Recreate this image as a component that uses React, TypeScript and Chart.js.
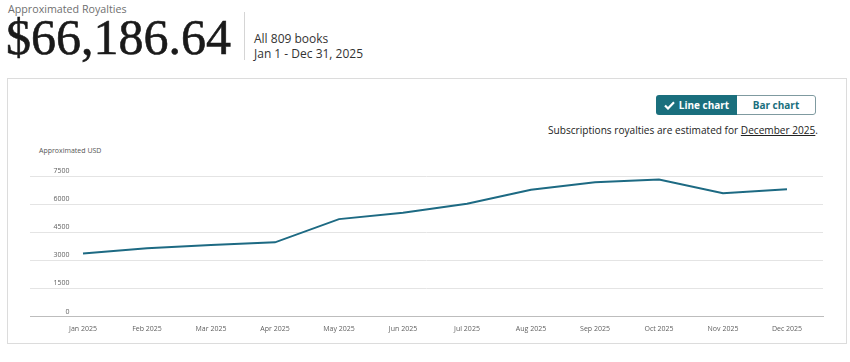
import React, { useEffect, useRef } from "react";
import { Chart, registerables } from "chart.js";

Chart.register(...registerables);

const months = [
  "Jan 2025", "Feb 2025", "Mar 2025", "Apr 2025", "May 2025", "Jun 2025",
  "Jul 2025", "Aug 2025", "Sep 2025", "Oct 2025", "Nov 2025", "Dec 2025",
];
const royalties = [3370, 3650, 3820, 3960, 5200, 5540, 6020, 6770, 7170, 7310, 6580, 6796.64];
const yTickValues = [0, 1500, 3000, 4500, 6000, 7500];

const TEAL = "#1a6f7d";
const LINE = "#1d6a83";
const FONT = "'Open Sans', 'Noto Sans', sans-serif";

function LineChart() {
  const ref = useRef<HTMLCanvasElement | null>(null);
  useEffect(() => {
    if (!ref.current) return;
    const chart = new Chart(ref.current, {
      type: "line",
      data: {
        datasets: [
          {
            data: royalties.map((v, i) => ({ x: i, y: v })),
            borderColor: LINE,
            borderWidth: 2,
            pointRadius: 0,
            tension: 0,
            fill: false,
          },
        ],
      },
      options: {
        animation: false,
        responsive: false,
        layout: { padding: { left: 30, right: 27, top: 36, bottom: 0 } },
        plugins: { legend: { display: false }, tooltip: { enabled: false } },
        scales: {
          x: {
            type: "linear",
            min: -0.828,
            max: 11.5625,
            grid: { display: false, drawTicks: false },
            border: { display: true, color: "#bdbdbd", width: 1 },
            afterBuildTicks: (s: any) => {
              s.ticks = months.map((_, i) => ({ value: i }));
            },
            ticks: {
              autoSkip: false,
              maxRotation: 0,
              padding: 8,
              color: "#5f5f5f",
              font: { family: FONT, size: 7 },
              callback: (v: any) => months[v as number] ?? "",
            },
          },
          y: {
            min: 0,
            max: 7500,
            afterBuildTicks: (s: any) => {
              s.ticks = yTickValues.map((v) => ({ value: v }));
            },
            afterFit: (s: any) => {
              s.width = 0;
              s.paddingTop = 0;
              s.paddingBottom = 0;
            },
            grid: { color: "#e4e4e4", drawTicks: false, lineWidth: 1 },
            border: { display: false },
            ticks: {
              mirror: true,
              crossAlign: "far",
              padding: 23.5,
              labelOffset: -5,
              color: "#5f5f5f",
              font: { family: FONT, size: 7 },
              callback: (v: any) => String(v),
            },
          },
        },
      },
    });
    return () => chart.destroy();
  }, []);
  return (
    <canvas
      ref={ref}
      width={850}
      height={201}
      style={{ position: "absolute", left: 0, top: 140, width: 850, height: 201 }}
    />
  );
}

export default function App() {
  return (
    <div
      style={{
        position: "fixed",
        left: 0,
        top: 0,
        width: 850,
        height: 362,
        background: "#fff",
        fontFamily: FONT,
        overflow: "hidden",
      }}
    >
      <div style={{ position: "absolute", left: 8, top: 2, fontSize: 10.7, color: "#6f6f6f", lineHeight: "14px", whiteSpace: "nowrap" }}>
        Approximated Royalties
      </div>
      <div
        style={{
          position: "absolute",
          left: 6,
          top: 12,
          fontFamily: "'Liberation Serif', 'DejaVu Serif', serif",
          fontSize: 50,
          lineHeight: "50px",
          color: "#1a1a1a",
          whiteSpace: "nowrap",
          WebkitTextStroke: "0.6px #1a1a1a",
        }}
      >
        $66,186.64
      </div>
      <div style={{ position: "absolute", left: 244, top: 12, width: 1, height: 48, background: "#d5d5d5" }} />
      <div style={{ position: "absolute", left: 254, top: 31, fontSize: 12, color: "#333", lineHeight: "16px", whiteSpace: "nowrap" }}>
        All 809 books
      </div>
      <div style={{ position: "absolute", left: 254, top: 46, fontSize: 12, color: "#333", lineHeight: "16px", whiteSpace: "nowrap" }}>
        Jan 1 - Dec 31, 2025
      </div>

      <div
        style={{
          position: "absolute",
          left: 7,
          top: 78,
          width: 838,
          height: 264,
          border: "1px solid #dcdcdc",
          boxSizing: "content-box",
        }}
      />

      <div
        style={{
          position: "absolute",
          left: 656,
          top: 95,
          width: 160,
          height: 20,
          display: "flex",
          borderRadius: 3,
          overflow: "hidden",
          boxSizing: "border-box",
        }}
      >
        <div
          style={{
            width: 81,
            height: 20,
            background: TEAL,
            color: "#fff",
            fontSize: 10,
            fontWeight: 700,
            display: "flex",
            alignItems: "center",
            justifyContent: "center",
            gap: 4,
          }}
        >
          <svg width="11" height="9" viewBox="0 0 11 9">
            <path d="M1 4.5 L4 7.5 L10 1.2" stroke="#fff" strokeWidth="2.2" fill="none" />
          </svg>
          <span>Line chart</span>
        </div>
        <div
          style={{
            width: 79,
            height: 20,
            background: "#fff",
            color: TEAL,
            fontSize: 10,
            fontWeight: 700,
            display: "flex",
            alignItems: "center",
            justifyContent: "center",
            border: "1px solid #7f9aa0",
            borderLeft: "none",
            borderRadius: "0 3px 3px 0",
            boxSizing: "border-box",
          }}
        >
          Bar chart
        </div>
      </div>

      <div
        style={{
          position: "absolute",
          right: 850 - 818,
          top: 122,
          fontSize: 10.1,
          color: "#222",
          lineHeight: "16px",
          whiteSpace: "nowrap",
        }}
      >
        Subscriptions royalties are estimated for <span style={{ textDecoration: "underline" }}>December 2025</span>.
      </div>

      <div style={{ position: "absolute", left: 39, top: 145, fontSize: 7, color: "#555", lineHeight: "12px", whiteSpace: "nowrap" }}>
        Approximated USD
      </div>

      <LineChart />
    </div>
  );
}
